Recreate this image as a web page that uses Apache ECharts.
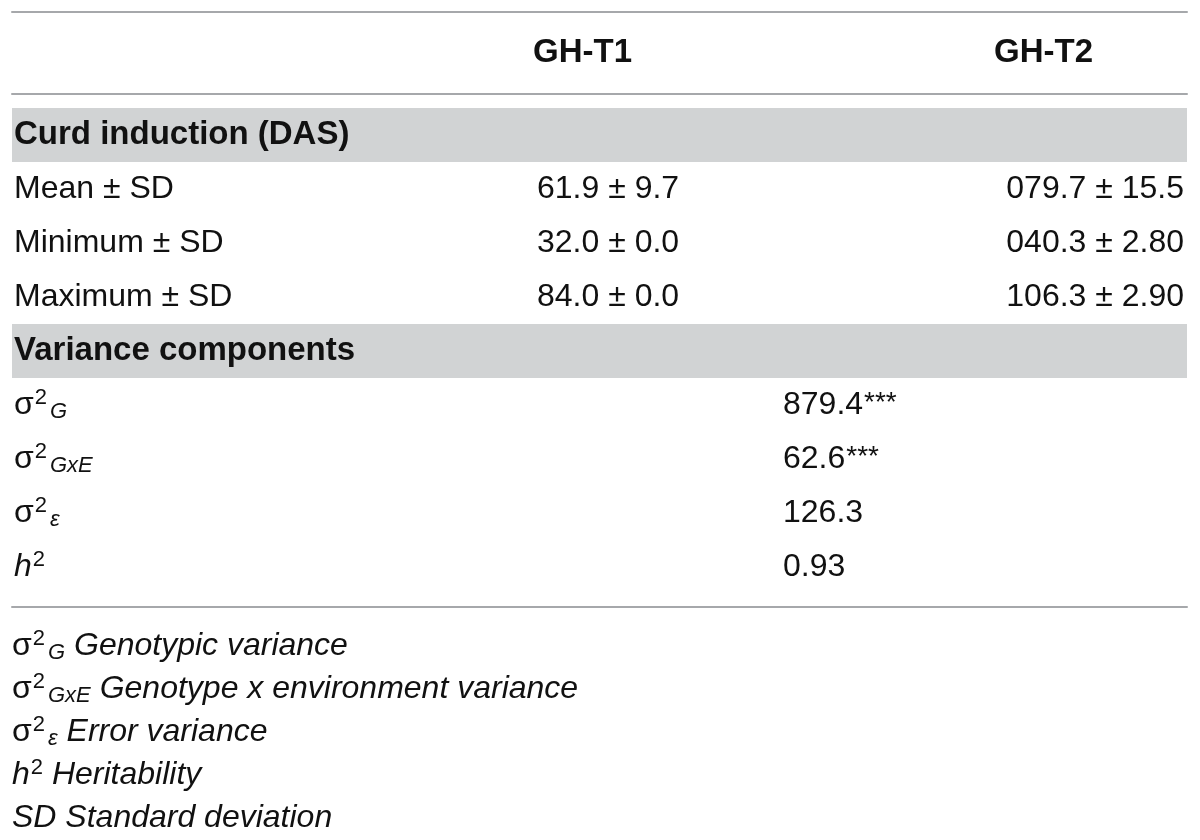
<!DOCTYPE html>
<html>
<head>
    <meta charset="utf-8">
    <title>Curd induction</title>
    <script src="https://cdn.jsdelivr.net/npm/echarts@6/dist/echarts.min.js"></script>
    <style>
        html, body { margin: 0; background: #fff; }
        #chart1 { width: 1200px; height: 840px; }
    </style>
</head>
<body>
<div id="chart1"></div>
<script type="text/javascript">

    // column headers
    var columns = ['GH-T1', 'GH-T2'];

    // table body rows (category keys + label text)
    var rowKeys = ['curd', 'mean', 'min', 'max', 'var', 'sG', 'sGxE', 'sE', 'h2'];
    var rowLabels = [
        'Curd induction (DAS)',
        'Mean ± SD',
        'Minimum ± SD',
        'Maximum ± SD',
        'Variance components',
        '{s|σ}{sup|2}{sub|G}',
        '{s|σ}{sup|2}{sub|GxE}',
        '{s|σ}{sup|2}{sub|ε}',
        '{hi|h}{sup|2}'
    ];
    var sectionKeys = ['curd', 'var'];

    // curd induction values per trial
    var statKeys = ['mean', 'min', 'max'];
    var t1Values = ['61.9 ± 9.7', '32.0 ± 0.0', '84.0 ± 0.0'];
    var t2Values = ['079.7 ± 15.5', '040.3 ± 2.80', '106.3 ± 2.90'];

    // variance components (pooled over trials)
    var varKeys = ['sG', 'sGxE', 'sE', 'h2'];
    var varValues = ['879.4{ast|***}', '62.6{ast|***}', '126.3', '0.93'];

    // footnotes
    var noteKeys = ['n1', 'n2', 'n3', 'n4', 'n5'];
    var footnotes = [
        '{s|σ}{sup|2}{sub|G} Genotypic variance',
        '{s|σ}{sup|2}{sub|GxE} Genotype x environment variance',
        '{s|σ}{sup|2}{sub|ε} Error variance',
        'h{sup|2} Heritability',
        'SD Standard deviation'
    ];

    var FONT = '"Liberation Sans", Helvetica, Arial, sans-serif';
    var INK = '#111111';
    var RULE = '#a6a8ab';
    var BAND = '#d1d3d4';
    var FS = 32;
    var W = 1175;
    // x anchors inside the grid
    var colX = { label: 2, head1: 521, head2: 982, t1: 525, t2: 1172, pooled: 771 };

    var rich = {
        s: { fontStyle: 'normal', fontSize: FS, fontFamily: FONT, color: INK },
        sup: { fontStyle: 'normal', fontSize: 22, fontFamily: FONT, color: INK, padding: [0, 0, 15, 1] },
        sub: { fontStyle: 'italic', fontSize: 22, fontFamily: FONT, color: INK, padding: [13, 0, 0, 3] },
        hi: { fontStyle: 'italic', fontSize: FS, fontFamily: FONT, color: INK },
        ast: { fontSize: 28, fontFamily: FONT, color: INK, padding: [0, 0, 4, 1] }
    };

    function textSeries(xIdx, yIdx, items, pos, extra) {
        return {
            type: 'scatter',
            xAxisIndex: xIdx,
            yAxisIndex: yIdx,
            symbolSize: 0,
            silent: true,
            itemStyle: { opacity: 1 },
            data: items,
            label: Object.assign({
                show: true,
                position: pos,
                distance: 0,
                fontFamily: FONT,
                fontSize: FS,
                color: INK,
                opacity: 1,
                formatter: function (p) { return p.name; },
                rich: rich
            }, extra || {})
        };
    }

    var ruleAxis = function (pos, grid, offset) {
        return {
            type: 'value', gridIndex: grid, min: 0, max: W, position: pos, offset: offset || 0,
            axisLine: { show: true, lineStyle: { color: RULE, width: 2 } },
            axisTick: { show: false }, axisLabel: { show: false }, splitLine: { show: false }
        };
    };

    var chart = echarts.init(document.getElementById('chart1'));
    chart.setOption({
        animation: false,
        grid: [
            { left: 12, right: 13, top: 12, height: 82 },
            { left: 12, right: 13, top: 108, height: 486 },
            { left: 12, right: 13, top: 625, height: 218 }
        ],
        xAxis: [
            ruleAxis('top', 0),
            ruleAxis('bottom', 0),
            ruleAxis('bottom', 1, 13),
            { type: 'value', gridIndex: 2, min: 0, max: W, show: false }
        ],
        yAxis: [
            { type: 'category', gridIndex: 0, data: ['head'], show: false },
            { type: 'category', gridIndex: 1, data: rowKeys, inverse: true, show: false },
            { type: 'category', gridIndex: 2, data: noteKeys, inverse: true, show: false }
        ],
        series: [
            // grey section bands
            {
                type: 'bar',
                xAxisIndex: 2,
                yAxisIndex: 1,
                silent: true,
                barCategoryGap: 0,
                itemStyle: { color: BAND },
                data: rowKeys.map(function (k) { return sectionKeys.indexOf(k) >= 0 ? W : '-'; })
            },
            // column headers
            textSeries(1, 0, columns.map(function (c, i) {
                return { name: c, value: [i === 0 ? colX.head1 : colX.head2, 'head'] };
            }), 'right', { fontWeight: 'bold', fontSize: 33 }),
            // row labels
            textSeries(2, 1, rowKeys.map(function (k, i) {
                var item = { name: rowLabels[i], value: [colX.label, k] };
                if (sectionKeys.indexOf(k) >= 0) item.label = { fontWeight: 'bold', fontSize: 33 };
                return item;
            }), 'right'),
            // GH-T1 values
            textSeries(2, 1, statKeys.map(function (k, i) {
                return { name: t1Values[i], value: [colX.t1, k] };
            }), 'right'),
            // GH-T2 values (right aligned)
            textSeries(2, 1, statKeys.map(function (k, i) {
                return { name: t2Values[i], value: [colX.t2, k] };
            }), 'left'),
            // variance components
            textSeries(2, 1, varKeys.map(function (k, i) {
                return { name: varValues[i], value: [colX.pooled, k] };
            }), 'right'),
            // footnotes
            textSeries(3, 2, noteKeys.map(function (k, i) {
                return { name: footnotes[i], value: [0, k] };
            }), 'right', { fontStyle: 'italic' })
        ]
    });

</script>
</body>
</html>
